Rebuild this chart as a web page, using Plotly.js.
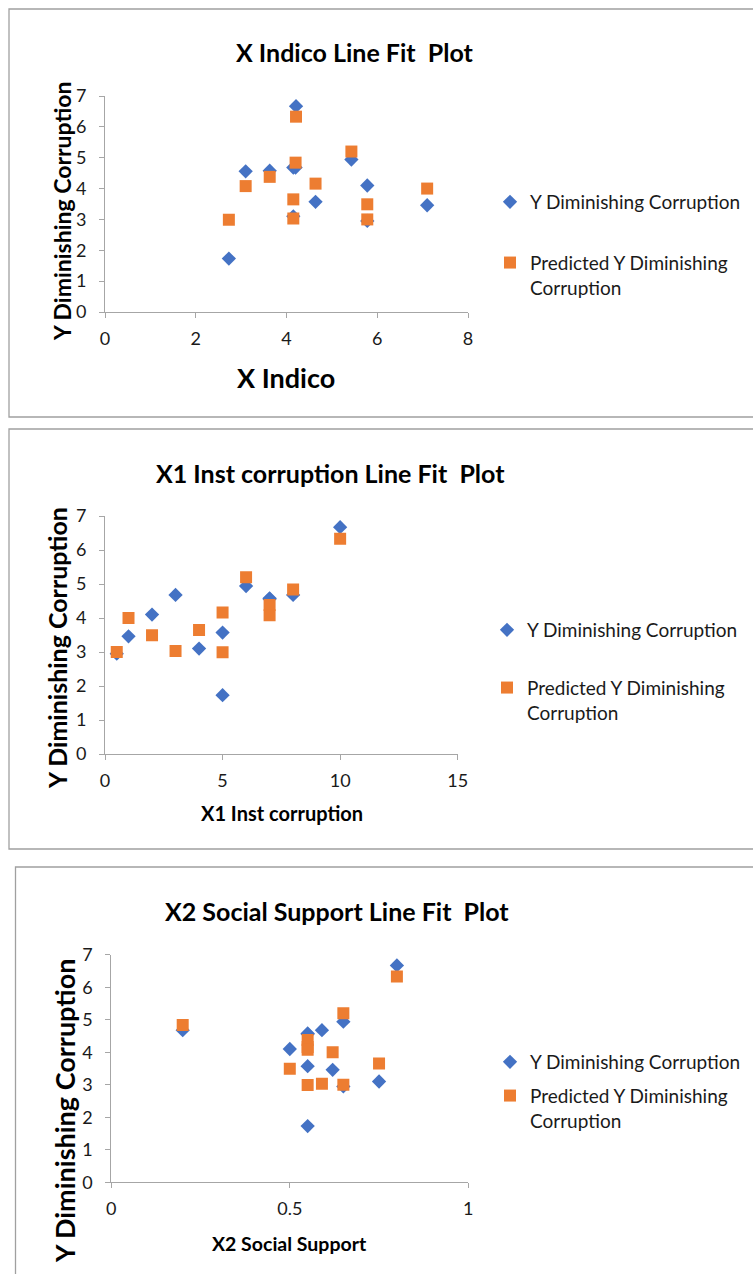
<!DOCTYPE html>
<html>
<head>
<meta charset="utf-8">
<script src="https://cdn.plot.ly/plotly-3.0.1.min.js"></script>
<style>html,body{margin:0;padding:0;background:#fff;}#chart{width:753px;height:1274px;}</style>
</head>
<body>
<div id="chart"></div>
<script>
// ---- data ----
const xIndico   = [4.21, 5.43, 4.20, 3.63, 4.64, 3.10, 7.10, 4.15, 5.78, 2.73, 5.78, 4.15];
const x1Inst    = [10, 6, 8, 7, 5, 7, 1, 4, 2, 5, 0.5, 3];
const x2Social  = [0.80, 0.65, 0.20, 0.55, 0.55, 0.55, 0.62, 0.75, 0.50, 0.55, 0.65, 0.59];
const yActual   = [6.67, 4.94, 4.68, 4.58, 3.57, 4.56, 3.46, 3.10, 4.10, 1.73, 2.95, 4.68];
const yPredicted= [6.33, 5.20, 4.84, 4.38, 4.16, 4.08, 4.00, 3.65, 3.49, 2.99, 3.00, 3.03];
const chartTitles = ["X Indico Line Fit  Plot", "X1 Inst corruption Line Fit  Plot", "X2 Social Support Line Fit  Plot"];
const xTitles = ["X Indico", "X1 Inst corruption", "X2 Social Support"];
const yTitle = "Y Diminishing Corruption";
const seriesNames = ["Y Diminishing Corruption", "Predicted Y Diminishing<br>Corruption"];
const xTicks1 = [0, 2, 4, 6, 8];
const xTicks2 = [0, 5, 10, 15];
const xTicks3 = [0, 0.5, 1];
const yTicks = [0, 1, 2, 3, 4, 5, 6, 7];

const W = 753, H = 1274;
const px = v => v / W;
const py = v => 1 - v / H;
const FONT = 'Lato, "Open Sans", sans-serif';
const BLUE = '#4472C4', ORANGE = '#ED7D31', AXIS = '#a6a6a6';

const xs = [xIndico, x1Inst, x2Social];
const traces = [];
const legendKeys = ['legend', 'legend2', 'legend3'];
for (let i = 0; i < 3; i++) {
  const ax = i === 0 ? '' : String(i + 1);
  traces.push({
    type: 'scatter', mode: 'markers', x: xs[i], y: yActual,
    xaxis: 'x' + ax, yaxis: 'y' + ax, name: seriesNames[0],
    legend: legendKeys[i], legendgroup: 'a' + i,
    marker: {symbol: 'diamond', size: 11, color: BLUE},
    hoverinfo: 'x+y'
  });
  traces.push({
    type: 'scatter', mode: 'markers', x: xs[i], y: yPredicted,
    xaxis: 'x' + ax, yaxis: 'y' + ax, name: seriesNames[1],
    legend: legendKeys[i], legendgroup: 'b' + i,
    marker: {symbol: 'square', size: 12, color: ORANGE},
    hoverinfo: 'x+y'
  });
}

function xAxis(domain, range, ticks, anchor) {
  return {
    domain: domain, range: range, tickvals: ticks, ticktext: ticks.map(String),
    showgrid: false, zeroline: false, showline: true, linecolor: AXIS, linewidth: 1,
    ticks: 'outside', ticklen: 5, tickcolor: AXIS, tickwidth: 1,
    tickfont: {family: FONT, size: 18, color: '#1a1a1a'}, ticklabelstandoff: 5,
    anchor: anchor, fixedrange: true
  };
}
function yAxis(domain, anchor) {
  return {
    domain: domain, range: [0, 7], tickvals: yTicks, ticktext: yTicks.map(String),
    showgrid: false, zeroline: false, showline: true, linecolor: AXIS, linewidth: 1,
    ticks: 'outside', ticklen: 5, tickcolor: AXIS, tickwidth: 1,
    tickfont: {family: FONT, size: 18, color: '#1a1a1a'}, ticklabelstandoff: 9,
    anchor: anchor, fixedrange: true
  };
}

function legendAt(xpx, ypx, gap) {
  return {
    x: px(xpx), y: py(ypx), xanchor: 'left', yanchor: 'top',
    font: {family: FONT, size: 19, color: '#1a1a1a'},
    bgcolor: 'rgba(0,0,0,0)', borderwidth: 0,
    traceorder: 'grouped', tracegroupgap: gap, valign: 'top'
  };
}

function ann(text, xpx, ypx, size, angle) {
  return {
    text: text, xref: 'paper', yref: 'paper', x: px(xpx), y: py(ypx),
    xanchor: 'center', yanchor: 'middle', showarrow: false, textangle: angle || 0,
    font: {family: FONT, size: size, color: '#000', weight: 700}
  };
}

const layout = {
  width: W, height: H, margin: {l: 0, r: 0, t: 0, b: 0},
  paper_bgcolor: '#fff', plot_bgcolor: '#fff', showlegend: true,
  xaxis: xAxis([px(105), px(468)], [0, 8], xTicks1, 'y'),
  yaxis: yAxis([py(312), py(96)], 'x'),
  xaxis2: xAxis([px(105), px(457.7)], [0, 15], xTicks2, 'y2'),
  yaxis2: yAxis([py(754), py(516)], 'x2'),
  xaxis3: xAxis([px(111.3), px(468.3)], [0, 1], xTicks3, 'y3'),
  yaxis3: yAxis([py(1182.3), py(954.7)], 'x3'),
  legend: legendAt(490, 183, 33),
  legend2: legendAt(487, 611, 30),
  legend3: legendAt(490, 1043, 6),
  shapes: [
    {type: 'rect', xref: 'paper', yref: 'paper', x0: px(9), x1: px(770), y0: py(417), y1: py(9), line: {color: '#a0a0a0', width: 1.3}},
    {type: 'rect', xref: 'paper', yref: 'paper', x0: px(9), x1: px(770), y0: py(849), y1: py(429), line: {color: '#a0a0a0', width: 1.3}},
    {type: 'rect', xref: 'paper', yref: 'paper', x0: px(15.5), x1: px(770), y0: py(1290), y1: py(867), line: {color: '#a0a0a0', width: 1.3}}
  ],
  annotations: [
    ann(chartTitles[0], 355, 52, 25),
    ann(chartTitles[1], 330, 473, 25),
    ann(chartTitles[2], 337, 911, 25),
    ann(xTitles[0], 286, 377, 27),
    ann(xTitles[1], 282, 813, 20),
    ann(xTitles[2], 289, 1243, 19.5),
    ann(yTitle, 62, 212, 23, -90),
    ann(yTitle, 57, 648, 25, -90),
    ann(yTitle, 64, 1111, 27, -90)
  ]
};

Plotly.newPlot('chart', traces, layout, {displayModeBar: false, staticPlot: true});
</script>
</body>
</html>
